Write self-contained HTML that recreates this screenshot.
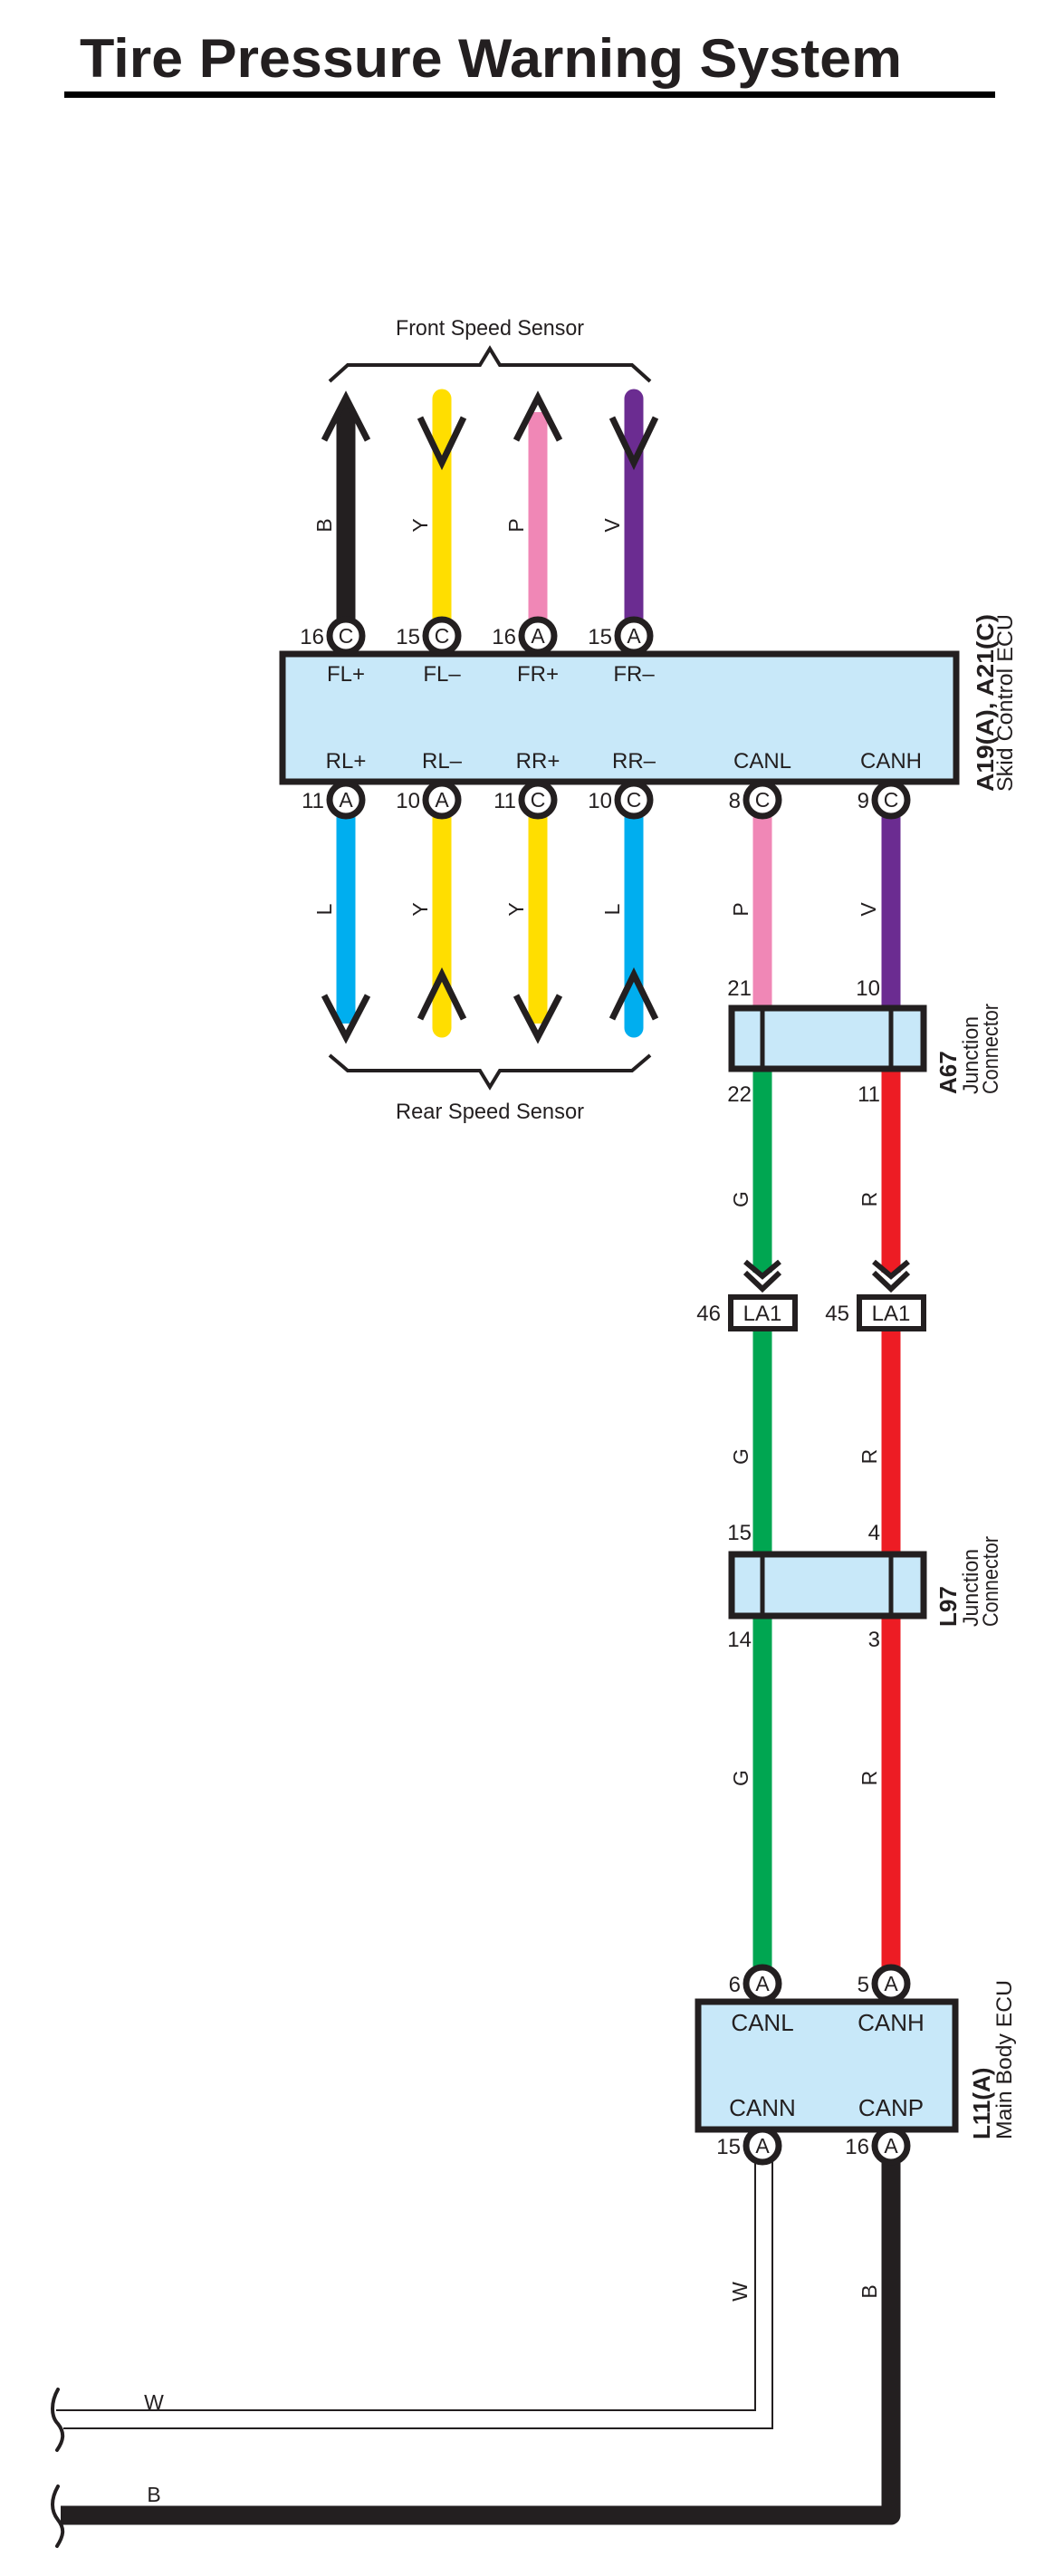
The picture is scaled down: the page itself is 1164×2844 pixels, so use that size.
<!DOCTYPE html>
<html><head><meta charset="utf-8"><style>
html,body{margin:0;padding:0;background:#fff;}
svg{display:block;}
text{font-family:"Liberation Sans",sans-serif;fill:#231f20;}
</style></head><body>
<svg width="1164" height="2844" viewBox="0 0 1164 2844" xmlns="http://www.w3.org/2000/svg">
<!-- Title -->
<text x="88" y="85" font-size="60" font-weight="bold" textLength="908" lengthAdjust="spacingAndGlyphs">Tire Pressure Warning System</text>
<rect x="71" y="101" width="1028" height="7" fill="#000"/>

<!-- Front brace -->
<text x="541" y="370" font-size="24" text-anchor="middle" textLength="208" lengthAdjust="spacingAndGlyphs">Front Speed Sensor</text>
<path d="M364,421 L384,403 L530,403 L541,385 L552,403 L698,403 L718,421" fill="none" stroke="#231f20" stroke-width="4"/>

<!-- Top wires -->
<line x1="382" y1="455" x2="382" y2="690" stroke="#231f20" stroke-width="21"/>
<line x1="488" y1="440" x2="488" y2="690" stroke="#ffde00" stroke-width="21" stroke-linecap="round"/>
<line x1="594" y1="455" x2="594" y2="690" stroke="#f087b6" stroke-width="21"/>
<line x1="700" y1="440" x2="700" y2="690" stroke="#6b2c91" stroke-width="21" stroke-linecap="round"/>
<path d="M382,436 L372,470 L392,470 Z" fill="#231f20"/>
<g fill="none" stroke="#231f20" stroke-width="7" stroke-linejoin="miter">
<polyline points="358,486 382,439 406,486"/>
<polyline points="464,461 488,511 512,461"/>
<polyline points="570,486 594,439 618,486"/>
<polyline points="676,461 700,511 724,461"/>
</g>
<g font-size="23" text-anchor="middle">
<text transform="translate(366,580) rotate(-90)">B</text>
<text transform="translate(472,580) rotate(-90)">Y</text>
<text transform="translate(578,580) rotate(-90)">P</text>
<text transform="translate(684,580) rotate(-90)">V</text>
</g>

<!-- Bottom wires -->
<line x1="382" y1="880" x2="382" y2="1130" stroke="#00aeef" stroke-width="21"/>
<line x1="488" y1="880" x2="488" y2="1135" stroke="#ffde00" stroke-width="21" stroke-linecap="round"/>
<line x1="594" y1="880" x2="594" y2="1130" stroke="#ffde00" stroke-width="21"/>
<line x1="700" y1="880" x2="700" y2="1135" stroke="#00aeef" stroke-width="21" stroke-linecap="round"/>
<g fill="none" stroke="#231f20" stroke-width="7">
<polyline points="358,1099 382,1145 406,1099"/>
<polyline points="464,1125 488,1076 512,1125"/>
<polyline points="570,1099 594,1145 618,1099"/>
<polyline points="676,1125 700,1076 724,1125"/>
</g>
<g font-size="23" text-anchor="middle">
<text transform="translate(366,1004) rotate(-90)">L</text>
<text transform="translate(472,1004) rotate(-90)">Y</text>
<text transform="translate(578,1004) rotate(-90)">Y</text>
<text transform="translate(684,1004) rotate(-90)">L</text>
<text transform="translate(826,1004) rotate(-90)">P</text>
<text transform="translate(967,1004) rotate(-90)">V</text>
</g>
<path d="M364,1165 L384,1182 L530,1182 L541,1200 L552,1182 L698,1182 L718,1165" fill="none" stroke="#231f20" stroke-width="4"/>
<text x="541" y="1235" font-size="24" text-anchor="middle" textLength="208" lengthAdjust="spacingAndGlyphs">Rear Speed Sensor</text>

<!-- CAN wires -->
<line x1="842" y1="880" x2="842" y2="1112" stroke="#f087b6" stroke-width="21"/>
<line x1="984" y1="880" x2="984" y2="1112" stroke="#6b2c91" stroke-width="21"/>
<line x1="842" y1="1180" x2="842" y2="1405" stroke="#00a651" stroke-width="21"/>
<line x1="984" y1="1180" x2="984" y2="1405" stroke="#ed1c24" stroke-width="21"/>
<line x1="842" y1="1468" x2="842" y2="1714" stroke="#00a651" stroke-width="21"/>
<line x1="984" y1="1468" x2="984" y2="1714" stroke="#ed1c24" stroke-width="21"/>
<line x1="842" y1="1785" x2="842" y2="2172" stroke="#00a651" stroke-width="21"/>
<line x1="984" y1="1785" x2="984" y2="2172" stroke="#ed1c24" stroke-width="21"/>
<g font-size="23" text-anchor="middle">
<text transform="translate(826,1324) rotate(-90)">G</text>
<text transform="translate(968,1324) rotate(-90)">R</text>
<text transform="translate(826,1608) rotate(-90)">G</text>
<text transform="translate(968,1608) rotate(-90)">R</text>
<text transform="translate(826,1963) rotate(-90)">G</text>
<text transform="translate(968,1963) rotate(-90)">R</text>
</g>

<!-- Skid control ECU box -->
<rect x="312" y="722" width="744" height="141" fill="#c8e8f9" stroke="#231f20" stroke-width="7"/>
<g font-size="24" text-anchor="middle">
<text x="382" y="752">FL+</text><text x="488" y="752">FL&#8211;</text>
<text x="594" y="752">FR+</text><text x="700" y="752">FR&#8211;</text>
<text x="382" y="848">RL+</text><text x="488" y="848">RL&#8211;</text>
<text x="594" y="848">RR+</text><text x="700" y="848">RR&#8211;</text>
<text x="842" y="848">CANL</text><text x="984" y="848">CANH</text>
</g>
<g fill="#fff" stroke="#231f20" stroke-width="7">
<circle cx="382" cy="702" r="18"/><circle cx="488" cy="702" r="18"/>
<circle cx="594" cy="702" r="18"/><circle cx="700" cy="702" r="18"/>
<circle cx="382" cy="883" r="18"/><circle cx="488" cy="883" r="18"/>
<circle cx="594" cy="883" r="18"/><circle cx="700" cy="883" r="18"/>
<circle cx="842" cy="883" r="18"/><circle cx="984" cy="883" r="18"/>
</g>
<g font-size="23" text-anchor="middle">
<text x="382" y="710">C</text><text x="488" y="710">C</text><text x="594" y="710">A</text><text x="700" y="710">A</text>
<text x="382" y="891">A</text><text x="488" y="891">A</text><text x="594" y="891">C</text><text x="700" y="891">C</text>
<text x="842" y="891">C</text><text x="984" y="891">C</text>
</g>
<g font-size="24" text-anchor="end">
<text x="358" y="711">16</text><text x="464" y="711">15</text><text x="570" y="711">16</text><text x="676" y="711">15</text>
<text x="358" y="892">11</text><text x="464" y="892">10</text><text x="570" y="892">11</text><text x="676" y="892">10</text>
<text x="818" y="892">8</text><text x="960" y="892">9</text>
</g>
<text transform="translate(1097,874) rotate(-90)" font-size="26" font-weight="bold" textLength="196" lengthAdjust="spacingAndGlyphs">A19(A), A21(C)</text>
<text transform="translate(1118,874) rotate(-90)" font-size="24" textLength="196" lengthAdjust="spacingAndGlyphs">Skid Control ECU</text>

<!-- A67 -->
<rect x="808" y="1113" width="212" height="67" fill="#c8e8f9" stroke="#231f20" stroke-width="7"/>
<line x1="842" y1="1113" x2="842" y2="1180" stroke="#231f20" stroke-width="5"/>
<line x1="984" y1="1113" x2="984" y2="1180" stroke="#231f20" stroke-width="5"/>
<g font-size="24" text-anchor="end">
<text x="830" y="1099">21</text><text x="972" y="1099">10</text>
<text x="830" y="1216">22</text><text x="972" y="1216">11</text>
<text x="830" y="1700">15</text><text x="972" y="1700">4</text>
<text x="830" y="1818">14</text><text x="972" y="1818">3</text>
</g>
<text transform="translate(1056,1208) rotate(-90)" font-size="26" font-weight="bold">A67</text>
<text transform="translate(1080,1208) rotate(-90)" font-size="24" textLength="86" lengthAdjust="spacingAndGlyphs">Junction</text>
<text transform="translate(1102,1208) rotate(-90)" font-size="24" textLength="100" lengthAdjust="spacingAndGlyphs">Connector</text>

<!-- LA1 -->
<g fill="none" stroke="#231f20" stroke-width="6">
<polyline points="823,1393 842,1409 861,1393"/>
<polyline points="823,1405 842,1423 861,1405"/>
<polyline points="965,1393 984,1409 1003,1393"/>
<polyline points="965,1405 984,1423 1003,1405"/>
</g>
<rect x="807" y="1432" width="71" height="35" fill="#fff" stroke="#231f20" stroke-width="6"/>
<rect x="949" y="1432" width="71" height="35" fill="#fff" stroke="#231f20" stroke-width="6"/>
<text x="842" y="1458" font-size="24" text-anchor="middle">LA1</text>
<text x="984" y="1458" font-size="24" text-anchor="middle">LA1</text>
<text x="796" y="1458" font-size="24" text-anchor="end">46</text>
<text x="938" y="1458" font-size="24" text-anchor="end">45</text>

<!-- L97 -->
<rect x="808" y="1716" width="212" height="68" fill="#c8e8f9" stroke="#231f20" stroke-width="7"/>
<line x1="842" y1="1716" x2="842" y2="1784" stroke="#231f20" stroke-width="5"/>
<line x1="984" y1="1716" x2="984" y2="1784" stroke="#231f20" stroke-width="5"/>
<text transform="translate(1056,1796) rotate(-90)" font-size="26" font-weight="bold">L97</text>
<text transform="translate(1080,1796) rotate(-90)" font-size="24" textLength="86" lengthAdjust="spacingAndGlyphs">Junction</text>
<text transform="translate(1102,1796) rotate(-90)" font-size="24" textLength="100" lengthAdjust="spacingAndGlyphs">Connector</text>

<!-- Bottom wires W and B -->
<path d="M853,2380 L853,2681 L70,2681" fill="none" stroke="#231f20" stroke-width="2"/>
<path d="M834,2380 L834,2661 L62,2661" fill="none" stroke="#231f20" stroke-width="2"/>
<path d="M984,2380 L984,2777 L67,2777" fill="none" stroke="#231f20" stroke-width="21" stroke-linejoin="round"/>
<g fill="none" stroke="#231f20" stroke-width="4" stroke-linecap="round">
<path d="M64,2638 C56,2652 56,2668 64,2676 C72,2686 70,2695 63,2705"/>
<path d="M64,2745 C56,2759 56,2772 64,2782 C72,2792 70,2800 63,2811"/>
</g>
<text x="170" y="2660" font-size="23" text-anchor="middle">W</text>
<text x="170" y="2762" font-size="23" text-anchor="middle">B</text>
<text transform="translate(825,2530) rotate(-90)" font-size="23" text-anchor="middle">W</text>
<text transform="translate(968,2530) rotate(-90)" font-size="23" text-anchor="middle">B</text>

<!-- Main body ECU -->
<rect x="771" y="2210" width="284" height="141" fill="#c8e8f9" stroke="#231f20" stroke-width="7"/>
<g font-size="26" text-anchor="middle">
<text x="842" y="2242">CANL</text><text x="984" y="2242">CANH</text>
<text x="842" y="2336">CANN</text><text x="984" y="2336">CANP</text>
</g>
<g fill="#fff" stroke="#231f20" stroke-width="7">
<circle cx="842" cy="2190" r="18"/><circle cx="984" cy="2190" r="18"/>
<circle cx="842" cy="2369" r="18"/><circle cx="984" cy="2369" r="18"/>
</g>
<g font-size="23" text-anchor="middle">
<text x="842" y="2198">A</text><text x="984" y="2198">A</text>
<text x="842" y="2377">A</text><text x="984" y="2377">A</text>
</g>
<g font-size="24" text-anchor="end">
<text x="818" y="2199">6</text><text x="960" y="2199">5</text>
<text x="818" y="2378">15</text><text x="960" y="2378">16</text>
</g>
<text transform="translate(1093,2362) rotate(-90)" font-size="26" font-weight="bold">L11(A)</text>
<text transform="translate(1117,2362) rotate(-90)" font-size="24" textLength="176" lengthAdjust="spacingAndGlyphs">Main Body ECU</text>
</svg>
</body></html>
